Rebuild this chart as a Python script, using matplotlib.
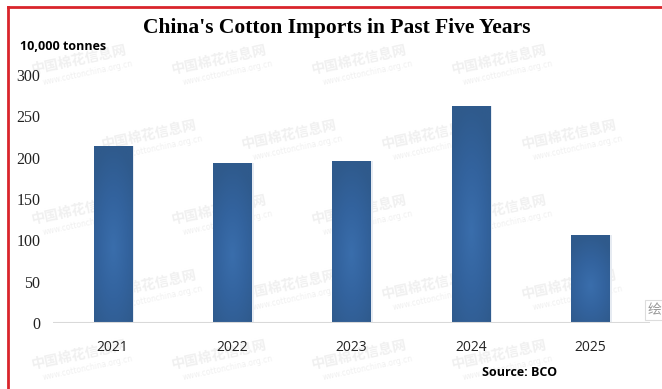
import numpy as np
import matplotlib.pyplot as plt
from matplotlib.colors import LinearSegmentedColormap
from matplotlib.patches import Rectangle
from matplotlib.lines import Line2D

years = ['2021', '2022', '2023', '2024', '2025']
imports = [214, 193, 196, 262, 106]
yticks = [0, 50, 100, 150, 200, 250, 300]

W, H = 662, 389
fig = plt.figure(figsize=(W / 100, H / 100), dpi=100)
fig.patch.set_facecolor('white')

# faint site watermark tiled behind the chart
for row, y in enumerate([60, 135, 210, 285, 355]):
    off = 0 if row % 2 == 0 else 70
    for x in range(30 + off, W - 110, 140):
        fig.text(x / W, 1 - y / H, '中国棉花信息网', fontsize=10, color='#f0f0f0',
                 rotation=12, family=['Noto Sans CJK SC'], fontweight='bold',
                 ha='left', va='center', zorder=-5)
        fig.text((x + 12) / W, 1 - (y + 13) / H, 'www.cottonchina.org.cn', fontsize=5.5,
                 color='#f0f0f0', rotation=12, ha='left', va='center', zorder=-5)

ax = fig.add_axes([53 / W, 1 - 323 / H, (650 - 53) / W, (323 - 75) / H], zorder=2)
ax.patch.set_alpha(0)

bar_w = 0.32
bars = ax.bar(range(len(years)), imports, width=bar_w, color='none', zorder=3)

# soft shading inside each bar: lighter middle, slightly darker top and sides
cmap = LinearSegmentedColormap.from_list('blueshade', ['#3a6eac', '#33639e', '#2f5a8c'])
gx, gy = np.meshgrid(np.linspace(-1, 1, 60), np.linspace(-1, 1, 200))
shade = np.clip(np.sqrt(gx ** 2 * 0.45 + (gy + 0.15) ** 2 * 0.75), 0, 1)
for b in bars:
    x0, w, h = b.get_x(), b.get_width(), b.get_height()
    # faint glow on the right side
    ax.add_patch(Rectangle((x0 + w, 0), 0.02, h, color='#e6ebf2', lw=0, zorder=2))
    im = ax.imshow(shade, cmap=cmap, extent=[x0, x0 + w, 0, h], aspect='auto',
                   origin='lower', zorder=3, vmin=0, vmax=1)
    im.set_clip_path(b)

ax.set_xlim(-0.5, len(years) - 0.5)
ax.set_ylim(0, 300)
for s in ax.spines.values():
    s.set_visible(False)
ax.axhline(0, color='#d9d9d9', lw=1.5, zorder=4)

ax.set_yticks(yticks)
ax.set_yticklabels([str(v) for v in yticks], family='Liberation Serif', fontsize=11.5,
                   color='#222222')
ax.set_xticks(range(len(years)))
ax.set_xticklabels(years, family='Open Sans', fontsize=10, color='#222222')
ax.tick_params(axis='both', length=0)
ax.tick_params(axis='y', pad=9)
ax.tick_params(axis='x', pad=12)

fig.text(337 / W, 1 - 28 / H, "China's Cotton Imports in Past Five Years",
         family='Liberation Serif', fontweight='bold', fontsize=15.5,
         ha='center', va='center')
fig.text(20 / W, 1 - 47 / H, '10,000 tonnes', family='Open Sans', fontweight='bold',
         fontsize=9, ha='left', va='center')
fig.text(520 / W, 1 - 373 / H, 'Source: BCO', family='Open Sans', fontweight='bold',
         fontsize=9, ha='center', va='center')
fig.text(648 / W, 1 - 310 / H, '绘', family=['Noto Sans CJK SC'], fontsize=10,
         color='#999999', ha='left', va='center',
         bbox=dict(boxstyle='square,pad=0.2', fc='white', ec='#dddddd', lw=0.8))

# red frame along the top and left edges
fig.add_artist(Line2D([7.5 / W, 7.5 / W], [0, 1 - 7 / H], color='#d9252b', lw=2,
                      transform=fig.transFigure))
fig.add_artist(Line2D([7.5 / W, 1], [1 - 7 / H, 1 - 7 / H], color='#d9252b', lw=2,
                      transform=fig.transFigure))

fig.savefig('out.png', dpi=100)
